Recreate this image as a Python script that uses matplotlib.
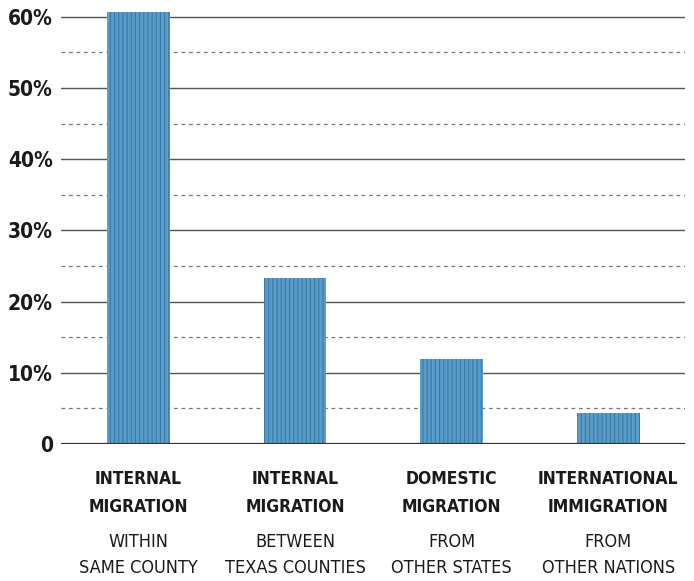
import matplotlib
matplotlib.use("Agg")
import matplotlib.pyplot as plt
from matplotlib import font_manager as fm

categories_bold = [["INTERNAL", "MIGRATION"], ["INTERNAL", "MIGRATION"], ["DOMESTIC", "MIGRATION"], ["INTERNATIONAL", "IMMIGRATION"]]
categories_sub = [["WITHIN", "SAME COUNTY"], ["BETWEEN", "TEXAS COUNTIES"], ["FROM", "OTHER STATES"], ["FROM", "OTHER NATIONS"]]
values = [60.7, 23.3, 11.9, 4.4]
major_ticks = [0, 10, 20, 30, 40, 50, 60]
major_labels = ["0", "10%", "20%", "30%", "40%", "50%", "60%"]
minor_ticks = [5, 15, 25, 35, 45, 55]

names = {f.name for f in fm.fontManager.ttflist}
fam = "Liberation Sans Narrow" if "Liberation Sans Narrow" in names else "DejaVu Sans"
stretch = "normal" if fam != "DejaVu Sans" else "condensed"

fig = plt.figure(figsize=(6.94, 5.81), dpi=100)
ax = fig.add_axes([61/694, 137/581, 624/694, 441.4/581])

x = list(range(len(values)))
plt.rcParams['hatch.linewidth'] = 0.8
ax.bar(x, values, width=0.40, color="#5a9dc9", hatch="||||", edgecolor="#3b79a5", linewidth=0, zorder=3)

for t in major_ticks[1:]:
    ax.axhline(t, color="#555555", lw=1.0, zorder=1)
for t in minor_ticks:
    ax.axhline(t, color="#777777", lw=0.9, ls=(0, (3, 3)), zorder=1)
ax.axhline(0, color="#333333", lw=1.6, zorder=4)

ax.set_xlim(-0.495, 3.49)
ax.set_ylim(0, 62)
for s in ax.spines.values():
    s.set_visible(False)
ax.set_xticks([])
ax.set_yticks(major_ticks)
ax.set_yticklabels(major_labels, fontsize=15, fontweight="bold", family=fam, fontstretch=stretch, color="#1a1a1a")
ax.tick_params(axis="y", length=0, pad=6)

tr = ax.get_xaxis_transform()
h = 441.4
ys_bold = [(444 - 479) / h, (444 - 507) / h]
ys_sub = [(444 - 542) / h, (444 - 568) / h]
for i in x:
    for j in range(2):
        ax.text(i, ys_bold[j], categories_bold[i][j], transform=tr, ha="center", va="center",
                fontsize=12.5, fontweight="bold", family=fam, fontstretch=stretch, color="#1a1a1a")
        ax.text(i, ys_sub[j], categories_sub[i][j], transform=tr, ha="center", va="center",
                fontsize=13, family=fam, fontstretch=stretch, color="#1a1a1a")

fig.savefig("out.png", dpi=100)
